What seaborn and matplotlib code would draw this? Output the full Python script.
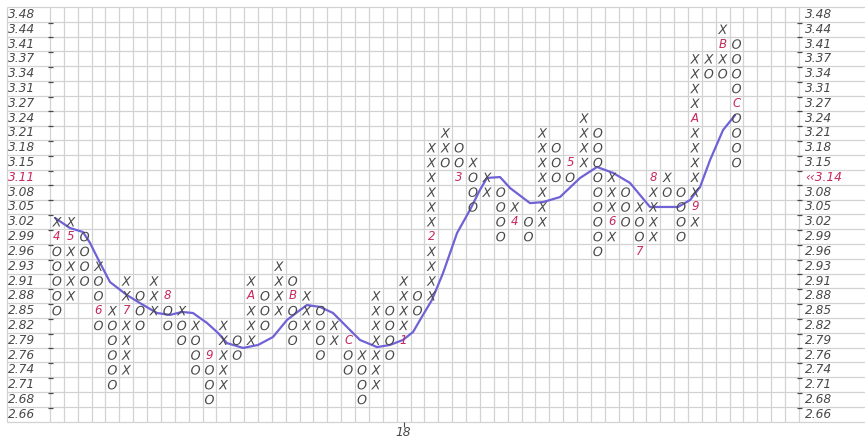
import numpy as np
import pandas as pd
import seaborn as sns
import matplotlib.pyplot as plt

# price scale, bottom row first
prices = ['2.66', '2.68', '2.71', '2.74', '2.76', '2.79', '2.82', '2.85', '2.88', '2.91',
          '2.93', '2.96', '2.99', '3.02', '3.05', '3.08', '3.11', '3.15', '3.18', '3.21',
          '3.24', '3.27', '3.31', '3.34', '3.37', '3.41', '3.44', '3.48']
last_row = 16
last_label = '‹‹3.14'

# point & figure columns: top row of each column and its boxes read downwards
# (X / O, anything else is the month marker written in that box)
col_top = [13, 13, 12, 10, 7, 9, 8, 9, 8, 7, 6, 4, 6, 5, 9, 8, 10, 9, 8, 7,
           6, 5, 4, 8, 7, 9, 8, 18, 19, 18, 17, 16, 15, 14, 13, 19, 18, 17, 20, 19,
           16, 15, 14, 16, 16, 15, 24, 24, 26, 25]
col_boxes = ['X4OOOOO', 'X5XXXX', 'OOOO', 'XOO6O', 'XOOOOO', 'XX7XXXX', 'OOO', 'XXX',
             '8OO', 'XOO', 'XOOO', '9OOO', 'XXXXX', 'OO', 'XAXXX', 'OOO', 'XXXX',
             'OBOOO', 'XXX', 'OOOO', 'XX', 'COO', 'XOOO', 'XXXXXXX', 'OOOO', 'XXXX1',
             'OO', 'XXXXXX2XXXX', 'XXO', 'OO3', 'XOOO', 'XX', 'OOOO', 'X4', 'OO',
             'XXXXXXX', 'OOO', '5O', 'XXXX', 'OOOOOOOOO', 'XXX6X', 'OOO', 'XOO7',
             '8XXXX', 'XO', 'OOOO', 'XXXXAXXXXX9X', 'XO', 'XBXO', 'OOOOCOOOO']
n_cols = 54

year_col = 25
year_label = '18'

# moving average line, in (column, box row) units
trend_col = [-0.14, 0.94, 1.88, 2.39, 3.11, 3.83, 5.05, 5.99, 7.22, 8.15, 9.02, 9.81,
             10.82, 11.62, 12.26, 13.42, 14.5, 15.58, 16.59, 17.53, 18.03, 18.97, 19.91,
             20.92, 21.85, 23.08, 24.01, 24.95, 25.68, 26.18, 27.04, 27.84, 28.85, 29.78,
             30.5, 31.01, 31.95, 32.67, 34.11, 35.05, 36.27, 37.72, 38.94, 40.1, 41.32,
             42.76, 43.7, 44.78, 45.65, 46.37, 47.09, 48.03, 48.9]
trend_row = [13.26, 12.58, 12.31, 11.57, 10.22, 8.93, 8.05, 7.51, 6.84, 6.71, 6.91, 6.84,
             6.17, 5.49, 4.81, 4.48, 4.68, 5.22, 6.37, 7.04, 7.38, 7.25, 6.84,
             5.89, 5.02, 4.54, 4.68, 5.02, 5.56, 6.37, 7.72, 9.54, 12.24, 13.8,
             15.15, 15.96, 16.02, 15.28, 14.26, 14.33, 14.67, 15.96, 16.7, 16.3, 15.62,
             14.0, 14.0, 14.0, 14.47, 15.35, 17.17, 19.2, 20.21]

sns.set_style('white')
plt.rcParams['font.family'] = ['DejaVu Sans']
plt.rcParams['mathtext.fontset'] = 'dejavusans'

cells = []
for c, (top, boxes) in enumerate(zip(col_top, col_boxes)):
    for k, ch in enumerate(boxes):
        cells.append({'col': c, 'row': top - k, 'box': ch})
df = pd.DataFrame(cells)
marks = df[df['box'].isin(['X', 'O'])]
months = df[~df['box'].isin(['X', 'O'])]

fig = plt.figure(figsize=(8.65, 4.4), dpi=100)
ax = fig.add_axes([0, 0, 1, 1])

grid = '#d2d2d2'
ink = '#484848'
red = '#c8285a'
n_rows = len(prices)

ax.vlines(np.arange(n_cols + 1) - 0.5, -0.5, n_rows - 0.5, color=grid, lw=0.9, zorder=0)
ax.vlines(-3.6, -0.5, n_rows - 0.5, color=grid, lw=0.9, zorder=0)
ax.hlines(np.arange(n_rows + 1) - 0.5, -3.6, 60, color=grid, lw=0.9, zorder=0)

# small dashes beside the scales
ax.hlines(np.arange(1, n_rows) - 0.55, -0.64, -0.28, color=ink, lw=0.9)
ax.hlines(np.arange(1, n_rows) - 0.55, 53.36, 53.72, color=ink, lw=0.9)

sns.lineplot(x=trend_col, y=trend_row, color='#6f62d6', lw=1.6, ax=ax, zorder=2)

sns.scatterplot(data=marks, x='col', y='row', style='box',
                markers={'X': '$X$', 'O': '$O$'}, color=ink, s=48,
                linewidth=0, legend=False, ax=ax, zorder=3)

for _, m in months.iterrows():
    ax.text(m['col'], m['row'], m['box'], color=red, fontsize=8.5, style='italic',
            ha='center', va='center', zorder=3)

for r, p in enumerate(prices):
    ax.text(-3.5, r, p, fontsize=8.8, style='italic', ha='left', va='center',
            color=red if r == last_row else ink)
    ax.text(53.95, r, last_label if r == last_row else p, fontsize=8.8, style='italic',
            ha='left', va='center', color=red if r == last_row else ink)

ax.vlines(year_col, -0.85, -0.5, color=ink, lw=0.8)
ax.text(year_col, -1.2, year_label, fontsize=8.8, style='italic', ha='center',
        va='center', color=ink)

ax.set_xlim(-4.10, 58.26)
ax.set_ylim(-1.735, 27.975)
ax.axis('off')

fig.savefig('out.png', dpi=100, facecolor='white')
